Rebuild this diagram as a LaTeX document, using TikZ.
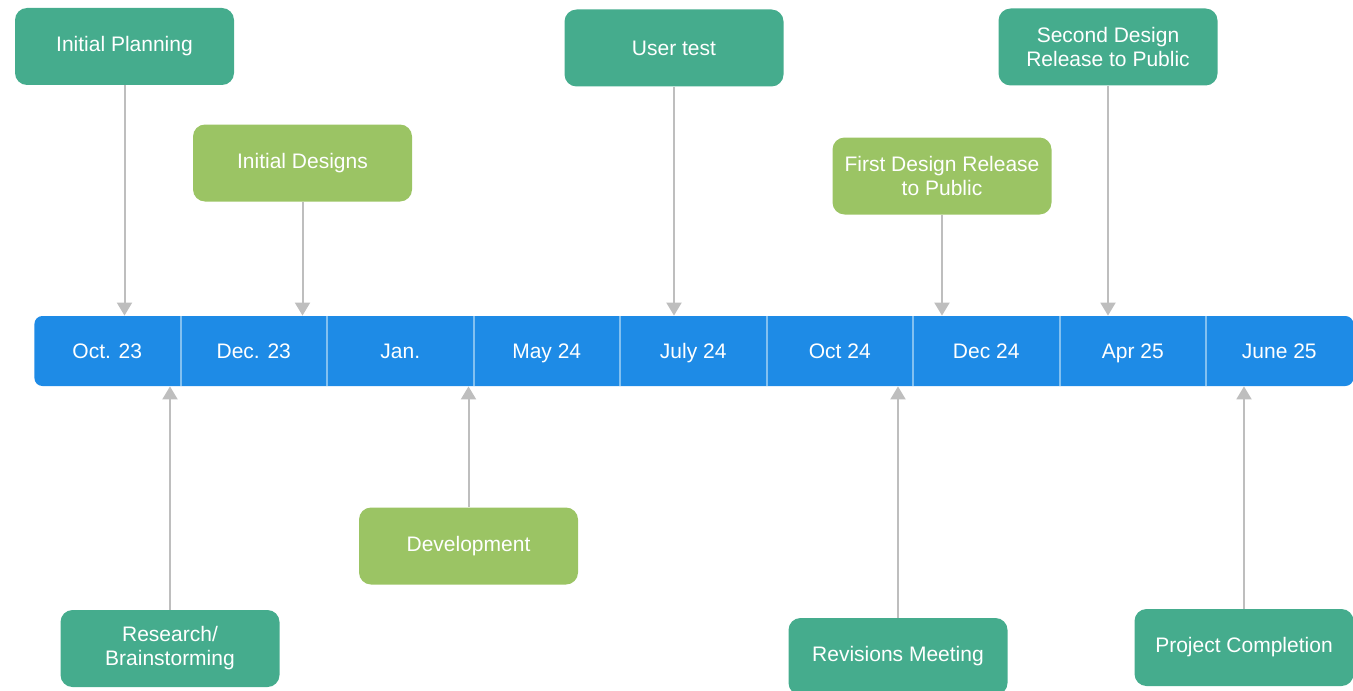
\documentclass[tikz,border=0pt]{standalone}
\usepackage{fontspec}
\setmainfont{Liberation Sans}
\usetikzlibrary{positioning,arrows.meta}
\definecolor{barblue}{RGB}{30,139,230}
\definecolor{lineblue}{RGB}{130,192,240}
\definecolor{darkgreen}{RGB}{69,172,141}
\definecolor{lightgreen}{RGB}{155,196,100}
\definecolor{pointergray}{RGB}{190,190,190}

\begin{document}
\begin{tikzpicture}[x=0.5pt,y=-0.5pt]
    \tikzstyle{stage}=[rounded corners=6pt, minimum width=109.5pt, minimum height=38.5pt, text=white, align=center, font=\fontsize{10.5}{12}\selectfont]
    \tikzstyle{major}=[stage, fill=darkgreen]
    \tikzstyle{minor}=[stage, fill=lightgreen]
    \tikzstyle{cell}=[minimum width=73.25pt, minimum height=35pt, inner sep=0pt, outer sep=0pt, text height=7.6pt, text depth=0pt, text=white, font=\fontsize{10.5}{12}\selectfont]
    \tikzstyle{pointer}=[pointergray, line width=1pt, -{Triangle[width=7.5pt,length=6.5pt]}]
    \useasboundingbox (0,0) rectangle (1353,690);

    % timeline bar
    \node (bar) [fill=barblue, rounded corners=4pt, minimum width=659.5pt, minimum height=35pt, inner sep=0pt, anchor=west] at (34,351) {};
    \node (C1) [cell, anchor=west] at (bar.west) {Oct. 23};
    \node (C2) [cell, right=0pt of C1] {Dec. 23};
    \node (C3) [cell, right=0pt of C2] {Jan.};
    \node (C4) [cell, right=0pt of C3] {May 24};
    \node (C5) [cell, right=0pt of C4] {July 24};
    \node (C6) [cell, right=0pt of C5] {Oct 24};
    \node (C7) [cell, right=0pt of C6] {Dec 24};
    \node (C8) [cell, right=0pt of C7] {Apr 25};
    \node (C9) [cell, right=0pt of C8] {June 25};
    \foreach \i in {1,...,8}
        \draw [lineblue, line width=1pt] (C\i.north east) -- (C\i.south east);

    % stages above
    \node (Planning) [major] at (124.5,46.5) {Initial Planning};
    \node (Designs) [minor] at (302.5,163) {Initial Designs};
    \node (UserTest) [major] at (674,48) {User test};
    \node (FirstRelease) [minor] at (942,176) {First Design Release\\to Public};
    \node (SecondRelease) [major] at (1108,47) {Second Design\\Release to Public};

    \draw [pointer] (Planning) -- (Planning |- bar.north);
    \draw [pointer] (Designs) -- (Designs |- bar.north);
    \draw [pointer] (UserTest) -- (UserTest |- bar.north);
    \draw [pointer] (FirstRelease) -- (FirstRelease |- bar.north);
    \draw [pointer] (SecondRelease) -- (SecondRelease |- bar.north);

    % stages below
    \node (Research) [major] at (170,648.5) {Research/\\Brainstorming};
    \node (Development) [minor] at (468.5,546) {Development};
    \node (Revisions) [major] at (898,656.5) {Revisions Meeting};
    \node (Completion) [major] at (1244,647.5) {Project Completion};

    \draw [pointer] (Research) -- (Research |- bar.south);
    \draw [pointer] (Development) -- (Development |- bar.south);
    \draw [pointer] (Revisions) -- (Revisions |- bar.south);
    \draw [pointer] (Completion) -- (Completion |- bar.south);
\end{tikzpicture}
\end{document}
